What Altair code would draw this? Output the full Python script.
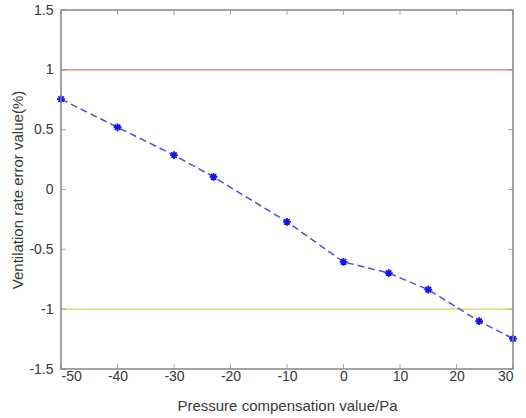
import altair as alt
import pandas as pd

# data
pressure = [-50, -40, -30, -23, -10, 0, 8, 15, 24, 30]
error = [0.755, 0.52, 0.287, 0.105, -0.27, -0.605, -0.698, -0.837, -1.10, -1.247]
upper_limit = [1.0]
lower_limit = [-1.0]
x_ticks = [-50, -40, -30, -20, -10, 0, 10, 20, 30]
y_ticks = [-1.5, -1.0, -0.5, 0.0, 0.5, 1.0, 1.5]

W, H = 452, 359
FONT = "Liberation Sans"
TXT = "#383838"
BOX = "#868686"

df = pd.DataFrame({"p": pressure, "e": error})
xs = alt.Scale(domain=[-50, 30], nice=False, zero=False)
ys = alt.Scale(domain=[-1.5, 1.5], nice=False, zero=False)

xaxis = alt.Axis(values=x_ticks, ticks=False, domain=False, grid=False,
                 labelExpr="'' + datum.value", labelFont=FONT, labelFontSize=14,
                 labelColor=TXT, labelPadding=0, title="Pressure compensation value/Pa",
                 titleFont=FONT, titleFontSize=15, titleFontWeight="normal",
                 titleColor=TXT, titlePadding=15)
yaxis = alt.Axis(values=y_ticks, ticks=False, domain=False, grid=False,
                 labelExpr="'' + datum.value", labelFont=FONT, labelFontSize=14,
                 labelColor=TXT, labelPadding=8, title="Ventilation rate error value(%)",
                 titleFont=FONT, titleFontSize=15, titleFontWeight="normal",
                 titleColor=TXT, titlePadding=3)

line = alt.Chart(df).mark_line(color="#4f4fe0", strokeDash=[7, 4], strokeWidth=1.5).encode(
    x=alt.X("p:Q", scale=xs, axis=xaxis),
    y=alt.Y("e:Q", scale=ys, axis=yaxis),
)

asterisk = "M-1,0L1,0M0,-1L0,1M-0.7,-0.7L0.7,0.7M-0.7,0.7L0.7,-0.7"
pts = alt.Chart(df).mark_point(shape=asterisk, color="#1010ff", size=60, strokeWidth=1.8,
                               filled=False, opacity=1).encode(
    x=alt.X("p:Q", scale=xs), y=alt.Y("e:Q", scale=ys))

up = alt.Chart(pd.DataFrame({"v": upper_limit})).mark_rule(color="#e2756a", strokeWidth=1.2).encode(
    y=alt.Y("v:Q", scale=ys))
lo = alt.Chart(pd.DataFrame({"v": lower_limit})).mark_rule(color="#d6d35a", strokeWidth=1.2).encode(
    y=alt.Y("v:Q", scale=ys))

frame = alt.Chart(pd.DataFrame({"a": [0]})).mark_rect(
    fillOpacity=0, stroke=BOX, strokeWidth=1.5).encode(
    x=alt.value(0), x2=alt.value(W), y=alt.value(0), y2=alt.value(H))

xt = pd.DataFrame({"t": x_ticks})
yt = pd.DataFrame({"t": y_ticks})
tick_b = alt.Chart(xt).mark_tick(color=BOX, size=5, thickness=1).encode(
    x=alt.X("t:Q", scale=xs), y=alt.value(H - 2.5))
tick_t = alt.Chart(xt).mark_tick(color=BOX, size=5, thickness=1).encode(
    x=alt.X("t:Q", scale=xs), y=alt.value(2.5))
tick_l = alt.Chart(yt).mark_tick(color=BOX, size=5, thickness=1, orient="horizontal").encode(
    y=alt.Y("t:Q", scale=ys), x=alt.value(2.5))
tick_r = alt.Chart(yt).mark_tick(color=BOX, size=5, thickness=1, orient="horizontal").encode(
    y=alt.Y("t:Q", scale=ys), x=alt.value(W - 2.5))

chart = alt.layer(up, lo, line, pts, frame, tick_b, tick_t, tick_l, tick_r).properties(
    width=W, height=H,
    autosize=alt.AutoSizeParams(type="none"),
    padding={"left": 61, "top": 10, "right": 13, "bottom": 49},
).configure(background="white").configure_view(strokeWidth=0)

chart.save("out.html", embed_options={"renderer": "svg", "actions": False})
